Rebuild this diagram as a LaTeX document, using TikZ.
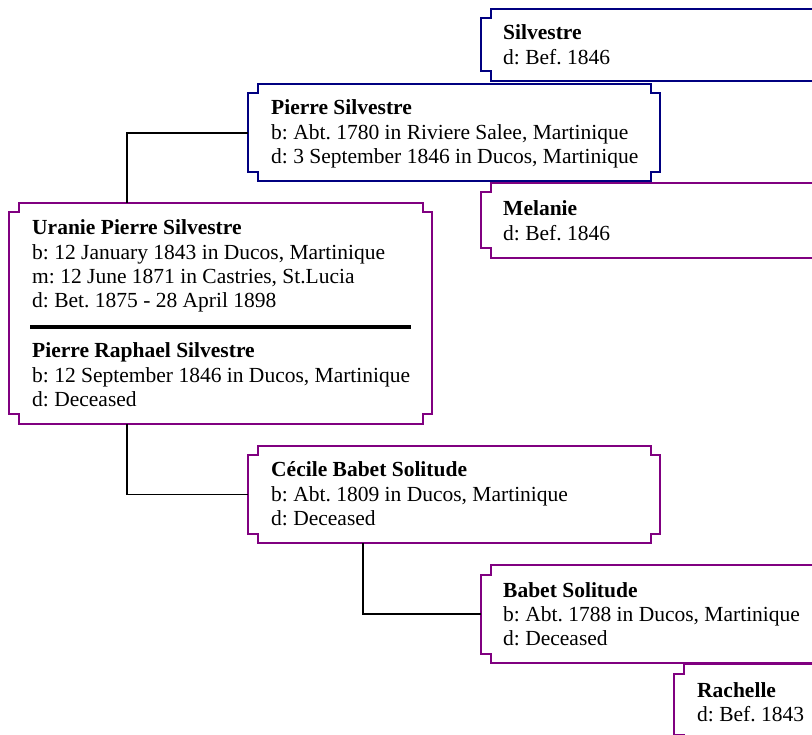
\documentclass[tikz,border=0pt]{standalone}
\usepackage{fontspec}
\setmainfont{Liberation Serif}
\usetikzlibrary{calc}
\definecolor{navyb}{RGB}{0,0,128}
\definecolor{purp}{RGB}{128,0,128}
\tikzset{
  famshape/.style={rectangle, anchor=north west, inner sep=0pt, outer sep=0pt},
  frame/.style={line width=2pt},
  conn/.style={line width=1.6pt, black},
  sepline/.style={line width=3.5pt, black},
  txt/.style={anchor=base west, inner sep=0pt, font=\fontsize{21.5}{24.3}\selectfont\frenchspacing}
}
\newcommand\famframe[2]{%
  \draw[frame,#2] let \p1=(#1.north west), \p2=(#1.south east) in
    ({\x1+9.5pt},\y1) -- ({\x2-9.5pt},\y1) -- ({\x2-9.5pt},{\y1-9.5pt}) -- (\x2,{\y1-9.5pt})
    -- (\x2,{\y2+9.5pt}) -- ({\x2-9.5pt},{\y2+9.5pt}) -- ({\x2-9.5pt},\y2) -- ({\x1+9.5pt},\y2)
    -- ({\x1+9.5pt},{\y2+9.5pt}) -- (\x1,{\y2+9.5pt}) -- (\x1,{\y1-9.5pt}) -- ({\x1+9.5pt},{\y1-9.5pt}) -- cycle;}
\newcommand\famtext[1]{\parbox[t]{600pt}{\raggedright\frenchspacing #1}}
\begin{document}
\begin{tikzpicture}[x=1pt,y=-1pt]
\useasboundingbox (0,0) rectangle (812,735);
\clip (0,0) rectangle (812,735);
% boxes
\node[famshape, minimum width=419pt, minimum height=72pt] (silv) at (481,9) {};
\node[famshape, minimum width=412pt, minimum height=97.5pt] (ps) at (248,84) {};
\node[famshape, minimum width=419pt, minimum height=75pt] (mel) at (481,183) {};
\node[famshape, minimum width=423pt, minimum height=221pt] (main) at (9,203) {};
\node[famshape, minimum width=412pt, minimum height=97pt] (cec) at (248,446) {};
\node[famshape, minimum width=419pt, minimum height=98pt] (bab) at (481,565) {};
\node[famshape, minimum width=226pt, minimum height=80pt] (rac) at (674,664) {};
\famframe{silv}{navyb}
\famframe{ps}{navyb}
\famframe{mel}{purp}
\famframe{main}{purp}
\famframe{cec}{purp}
\famframe{bab}{purp}
\famframe{rac}{purp}
% separator
\draw[sepline] ($(main.north west)+(21,124)$) -- ($(main.north east)+(-21,124)$);
% connectors
\draw[conn] ([xshift=118pt]main.north west) |- (ps.west);
\draw[conn] ([xshift=118pt]main.south west) |- (cec.west);
\draw[conn] ([xshift=115pt]cec.south west) |- (bab.west);
% texts
\node[txt] (tsilv) at (503,40) {\famtext{\textbf{Silvestre}\\d: Bef. 1846}};
\node[txt] (tps) at (271,115) {\famtext{\textbf{Pierre Silvestre}\\b: Abt. 1780 in Riviere Salee, Martinique\\d: 3 September 1846 in Ducos, Martinique}};
\node[txt] (tmel) at (503,216) {\famtext{\textbf{Melanie}\\d: Bef. 1846}};
\node[txt] (tmain) at (32,235) {\famtext{\textbf{Uranie Pierre Silvestre}\\b: 12 January 1843 in Ducos, Martinique\\m: 12 June 1871 in Castries, St.Lucia\\d: Bet. 1875 - 28 April 1898}};
\node[txt] (tspouse) at (32,358) {\famtext{\textbf{Pierre Raphael Silvestre}\\b: 12 September 1846 in Ducos, Martinique\\d: Deceased}};
\node[txt] (tcec) at (271,477) {\famtext{\textbf{Cécile Babet Solitude}\\b: Abt. 1809 in Ducos, Martinique\\d: Deceased}};
\node[txt] (tbab) at (503,597) {\famtext{\textbf{Babet Solitude}\\b: Abt. 1788 in Ducos, Martinique\\d: Deceased}};
\node[txt] (trac) at (697,697) {\famtext{\textbf{Rachelle}\\d: Bef. 1843}};
\end{tikzpicture}
\end{document}
